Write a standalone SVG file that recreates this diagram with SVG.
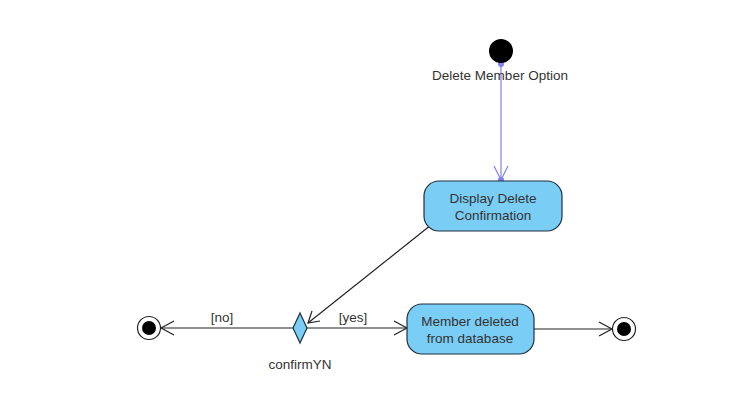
<svg xmlns="http://www.w3.org/2000/svg" width="753" height="407" viewBox="0 0 753 407">
<style>
text{font-family:"Liberation Sans",Arial,sans-serif;font-size:13.5px;fill:#333;}
.act{fill:#7acdf4;stroke:#1f2f3f;stroke-width:1.2;}
.line{stroke:#222;stroke-width:1.2;fill:none;}
.head{stroke:#222;stroke-width:1.2;fill:none;}
</style>
<rect width="753" height="407" fill="#fff"/>
<g id="connectors">
<line x1="501" y1="64" x2="501" y2="180" stroke="#8080f0" stroke-width="1.2"/>
<polyline points="494,166 501,180 508,166" fill="none" stroke="#8080f0" stroke-width="1.2"/>
<circle cx="501" cy="64" r="3" fill="#8080f0"/>
<circle cx="501" cy="180" r="3" fill="#8080f0"/>
<line class="line" x1="431" y1="225" x2="308" y2="323"/>
<polyline class="head" points="312,311 308,323 320,321"/>
<line class="line" x1="293" y1="328" x2="161" y2="328"/>
<polyline class="head" points="174,321 161,328 174,335"/>
<text x="222" y="322" text-anchor="middle">[no]</text>
<line class="line" x1="307" y1="328" x2="407" y2="328"/>
<polyline class="head" points="394,321 407,328 394,335"/>
<text x="353" y="322" text-anchor="middle">[yes]</text>
<line class="line" x1="534" y1="329" x2="612" y2="329"/>
<polyline class="head" points="599,322 612,329 599,336"/>
</g>
<g id="start">
<circle cx="501" cy="51" r="12" fill="#000"/>
<text x="500" y="80" text-anchor="middle">Delete Member Option</text>
</g>
<g id="display">
<rect class="act" x="424" y="181" width="138" height="50" rx="15"/>
<text x="493" y="203" text-anchor="middle">Display Delete</text>
<text x="493" y="220" text-anchor="middle">Confirmation</text>
</g>
<g id="confirmYN">
<polygon points="300,313 307,328 300,343 293,328" fill="#7acdf4" stroke="#1f2f3f" stroke-width="1.2"/>
<text x="300" y="369" text-anchor="middle">confirmYN</text>
</g>
<g id="deleted">
<rect class="act" x="407" y="304" width="127" height="50" rx="15"/>
<text x="470" y="326" text-anchor="middle">Member deleted</text>
<text x="470" y="343" text-anchor="middle">from database</text>
</g>
<g id="endNo">
<circle cx="149" cy="328" r="11.5" fill="#fff" stroke="#222" stroke-width="1.2"/>
<circle cx="149" cy="328" r="7" fill="#000"/>
</g>
<g id="endYes">
<circle cx="624" cy="329" r="11.5" fill="#fff" stroke="#222" stroke-width="1.2"/>
<circle cx="624" cy="329" r="7" fill="#000"/>
</g>
</svg>
